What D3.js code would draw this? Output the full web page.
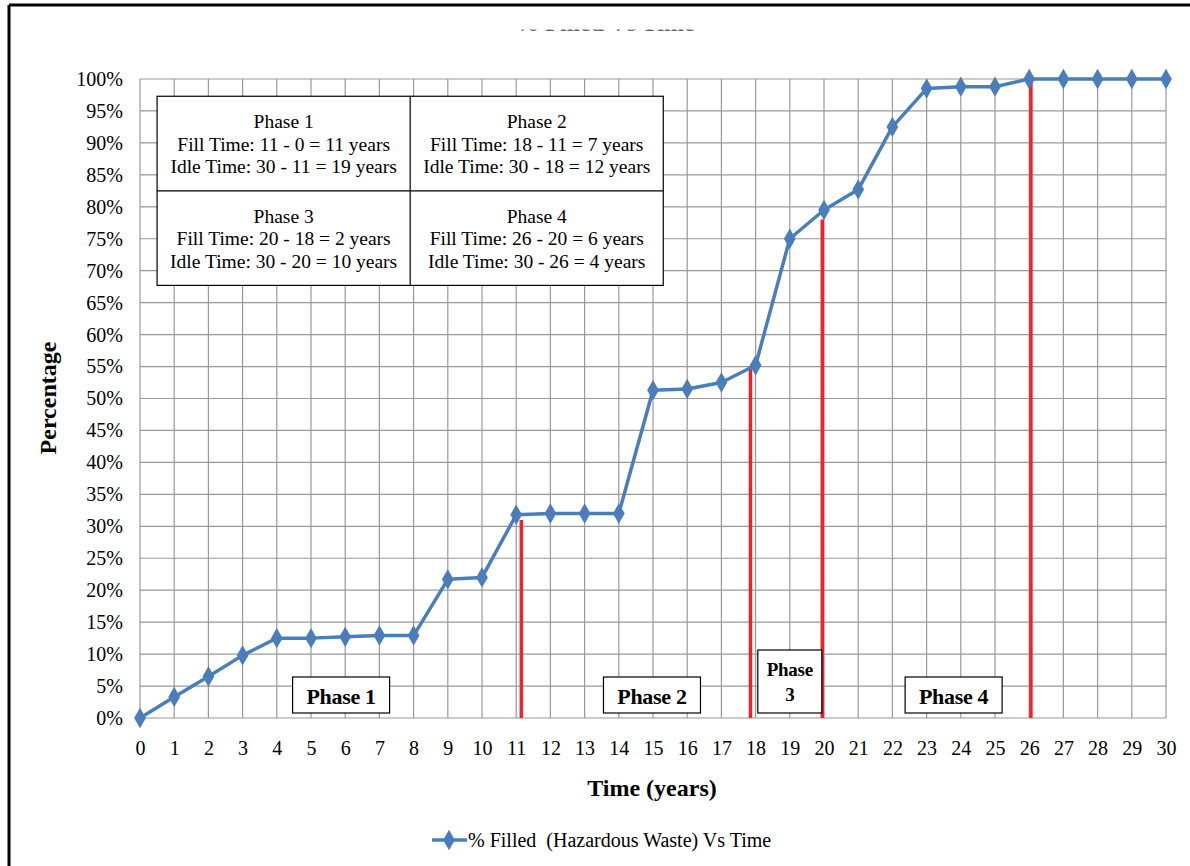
<!DOCTYPE html>
<html>
<head>
<meta charset="utf-8">
<script src="https://cdn.jsdelivr.net/npm/d3@7"></script>
<style>
  body { margin: 0; background: #fff; }
  svg text { font-family: "Liberation Serif", "Times New Roman", serif; }
</style>
</head>
<body>
<script>
// years 0..30 and % filled
const years = d3.range(0, 31);
const filled = [0, 3.3, 6.5, 9.8, 12.5, 12.5, 12.7, 12.9, 12.9, 21.7, 22.0,
    31.8, 32.0, 32.0, 32.0, 51.3, 51.5, 52.5, 55.2, 75.0, 79.5,
    82.7, 92.5, 98.5, 98.8, 98.8, 100, 100, 100, 100, 100];
const yTicks = d3.range(0, 101, 5);

// red phase boundary lines: x position (years) and top (%)
const phaseLineX = [11.15, 17.85, 19.95, 26.05];
const phaseLineTop = [31, 55, 78, 100];

// phase label boxes
const phaseLabels = [["Phase 1"], ["Phase 2"], ["Phase", "3"], ["Phase 4"]];
const phaseLabelX = [5.88, 14.97, 19.0, 23.79];

// summary table
const tableCells = [
  ["Phase 1", "Fill Time: 11 - 0 = 11 years", "Idle Time: 30 - 11 = 19 years"],
  ["Phase 2", "Fill Time: 18 - 11 = 7 years", "Idle Time: 30 - 18 = 12 years"],
  ["Phase 3", "Fill Time: 20 - 18 = 2 years", "Idle Time: 30 - 20 = 10 years"],
  ["Phase 4", "Fill Time: 26 - 20 = 6 years", "Idle Time: 30 - 26 = 4 years"]
];

const w = 1190, h = 866;
const margin = {top: 79, right: 24, bottom: 148, left: 140};
const blue = "#4a7ebb";

let svg = d3.select("body").append("svg")
    .attr("width", w)
    .attr("height", h);

// frame
svg.append("line").attr("x1", 9).attr("x2", 9).attr("y1", 5).attr("y2", h)
    .attr("stroke", "#000").attr("stroke-width", 3);
svg.append("line").attr("x1", 9).attr("x2", w).attr("y1", 5).attr("y2", 5)
    .attr("stroke", "#000").attr("stroke-width", 3);

// clipped title (only the bottom sliver shows)
svg.append("clipPath").attr("id", "tclip")
  .append("rect").attr("x", 0).attr("y", 29.5).attr("width", w).attr("height", 1.5);
svg.append("text")
    .attr("clip-path", "url(#tclip)")
    .attr("x", 605).attr("y", 31)
    .attr("text-anchor", "middle")
    .attr("font-size", 24).attr("font-weight", "bold")
    .attr("fill", "#666")
    .text("% Filled Vs Time");

let x = d3.scaleLinear()
    .domain([0, 30])
    .range([margin.left, 1166]);

let y = d3.scaleLinear()
    .domain([0, 100])
    .range([h - margin.bottom, margin.top]);

// grid
const grid = svg.append("g").attr("stroke", "#999").attr("stroke-width", 1.2);
grid.selectAll(".gx").data(years).enter().append("line")
    .attr("x1", d => x(d)).attr("x2", d => x(d))
    .attr("y1", y(0)).attr("y2", y(100));
grid.selectAll(".gy").data(yTicks).enter().append("line")
    .attr("x1", x(0)).attr("x2", x(30))
    .attr("y1", d => y(d)).attr("y2", d => y(d));

// axes (labels only)
let xAxis = g => g
    .attr("transform", `translate(0,${y(0)})`)
    .call(d3.axisBottom(x).tickValues(years).tickSize(0).tickPadding(23).tickFormat(d3.format("d")))
    .call(g => g.select(".domain").remove());

let yAxis = g => g
    .attr("transform", `translate(${x(0)},0)`)
    .call(d3.axisLeft(y).tickValues(yTicks).tickSize(0).tickPadding(17).tickFormat(d => d + "%"))
    .call(g => g.select(".domain").remove());

svg.append("g").call(xAxis)
    .selectAll("text").attr("font-size", 20).attr("fill", "#000")
    .style("font-family", "Liberation Serif");
svg.append("g").call(yAxis)
    .selectAll("text").attr("font-size", 20).attr("fill", "#000")
    .style("font-family", "Liberation Serif");

// axis titles
svg.append("text")
    .attr("x", 652).attr("y", 796)
    .attr("text-anchor", "middle")
    .attr("font-size", 24).attr("font-weight", "bold")
    .text("Time (years)");
svg.append("text")
    .attr("transform", `translate(56,398) rotate(-90)`)
    .attr("text-anchor", "middle")
    .attr("font-size", 24).attr("font-weight", "bold")
    .text("Percentage");

// table
const tbl = svg.append("g");
const tx0 = x(0.5), tx1 = x(7.9), tx2 = x(15.3);
const ty0 = y(97.3), ty1 = y(82.5), ty2 = y(67.7);
tbl.append("rect").attr("x", tx0).attr("y", ty0)
    .attr("width", tx2 - tx0).attr("height", ty2 - ty0)
    .attr("fill", "#fff").attr("stroke", "#000").attr("stroke-width", 1.2);
tbl.append("line").attr("x1", tx1).attr("x2", tx1).attr("y1", ty0).attr("y2", ty2)
    .attr("stroke", "#000").attr("stroke-width", 1.2);
tbl.append("line").attr("x1", tx0).attr("x2", tx2).attr("y1", ty1).attr("y2", ty1)
    .attr("stroke", "#000").attr("stroke-width", 1.2);
tableCells.forEach((cell, i) => {
  const cx = (i % 2 === 0) ? (tx0 + tx1) / 2 : (tx1 + tx2) / 2;
  const cy = (i < 2) ? ty0 : ty1;
  cell.forEach((line, j) => {
    tbl.append("text")
      .attr("x", cx).attr("y", cy + 32 + j * 22.5)
      .attr("text-anchor", "middle")
      .attr("font-size", 19.5)
      .text(line);
  });
});

// red phase lines
svg.append("g").selectAll("line").data(phaseLineX).enter().append("line")
    .attr("x1", d => x(d)).attr("x2", d => x(d))
    .attr("y1", y(0)).attr("y2", (d, i) => y(phaseLineTop[i]))
    .attr("stroke", "#ee2229").attr("stroke-width", 3.5);

// phase label boxes
phaseLabels.forEach((lines, i) => {
  const g = svg.append("g");
  const two = lines.length > 1;
  const bw = two ? 64 : 97;
  const bh = two ? 63 : 36;
  const bx = x(phaseLabelX[i]) - bw / 2;
  const by = y(0) - 5 - bh;
  g.append("rect").attr("x", bx).attr("y", by).attr("width", bw).attr("height", bh)
      .attr("fill", "#fff").attr("stroke", "#000").attr("stroke-width", 1.2);
  lines.forEach((t, j) => {
    g.append("text")
      .attr("x", bx + bw / 2)
      .attr("y", two ? by + 26 + j * 25 : by + 27)
      .attr("text-anchor", "middle")
      .attr("font-size", two ? 19 : 22)
      .attr("font-weight", "bold")
      .attr("letter-spacing", -0.3)
      .text(t);
  });
});

// series line
const line = d3.line().x((d, i) => x(years[i])).y(d => y(d));
svg.append("path").datum(filled)
    .attr("fill", "none").attr("stroke", blue).attr("stroke-width", 3.5)
    .attr("stroke-linejoin", "round")
    .attr("d", line);

const diamond = d3.symbol().type(d3.symbolDiamond).size(120);
svg.append("g").attr("fill", blue).selectAll("path").data(filled).enter().append("path")
    .attr("transform", (d, i) => `translate(${x(years[i])},${y(d)})`)
    .attr("d", diamond);

// legend
const lg = svg.append("g");
lg.append("line").attr("x1", 432).attr("x2", 467).attr("y1", 840).attr("y2", 840)
    .attr("stroke", blue).attr("stroke-width", 3.5);
lg.append("path").attr("transform", "translate(449,840)").attr("d", diamond).attr("fill", blue);
lg.append("text").attr("x", 468).attr("y", 847)
    .attr("font-size", 20)
    .text("% Filled  (Hazardous Waste) Vs Time")
    .style("white-space", "pre");
</script>
</body>
</html>
